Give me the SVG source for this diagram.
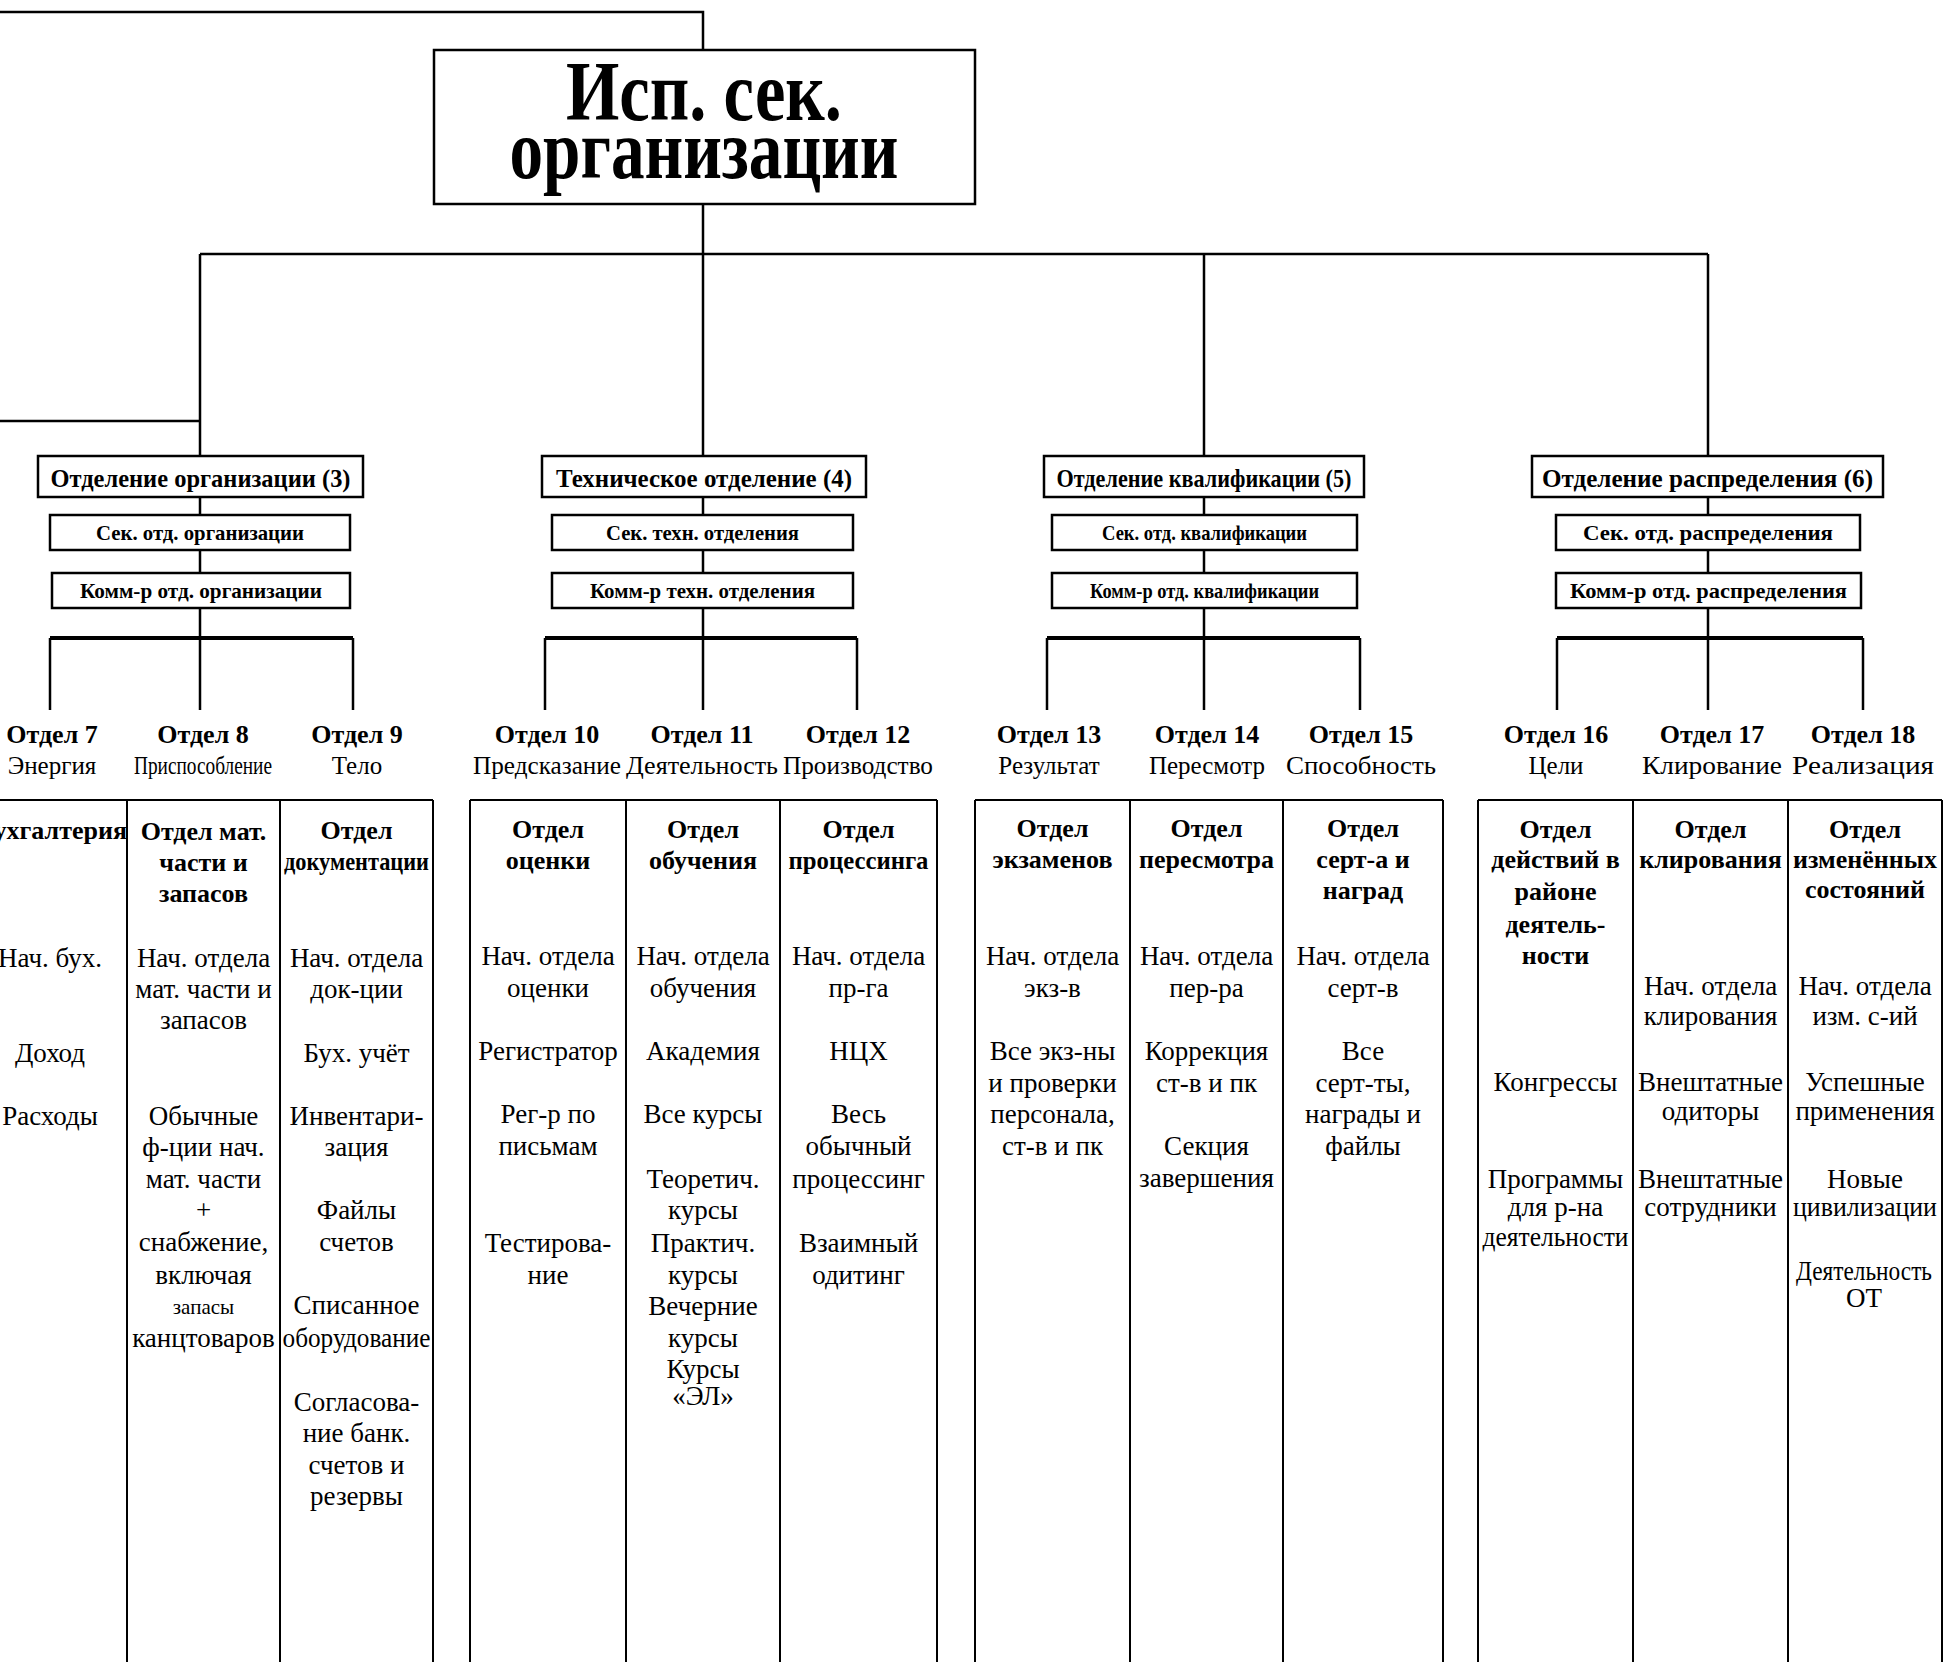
<svg xmlns="http://www.w3.org/2000/svg" width="1943" height="1662" viewBox="0 0 1943 1662">
<style>
.ln{stroke:#000;stroke-width:2.5;fill:none}
.tk{stroke:#000;stroke-width:4;fill:none}
.tl{stroke:#000;stroke-width:2;fill:none}
.box{fill:#fff;stroke:#000;stroke-width:2.5}
text{font-family:"Liberation Serif","DejaVu Serif",serif;fill:#000;text-anchor:middle}
.h1{font-size:84px;font-weight:bold}
.dv{font-size:26px;font-weight:bold}
.sb{font-size:21px;font-weight:bold}
.l1{font-size:26px;font-weight:bold}
.l2{font-size:25px}
.th{font-size:26px;font-weight:bold}
.td{font-size:27px}
</style>
<rect width="1943" height="1662" fill="#fff"/>
<g id="connectors">
<path class="ln" d="M0 12H703V50"/>
<path class="ln" d="M703 204V456"/>
<path class="ln" d="M200 254H1708"/>
<path class="ln" d="M200 254V456M1204 254V456M1708 254V456"/>
<path class="ln" d="M0 421H200"/>
<path class="ln" d="M200 497V515M200 550V573M200 608V710"/>
<path class="ln" d="M703 497V515M703 550V573M703 608V710"/>
<path class="ln" d="M1204 497V515M1204 550V573M1204 608V710"/>
<path class="ln" d="M1708 497V515M1708 550V573M1708 608V710"/>
<path class="tk" d="M50 638H353"/><path class="ln" d="M50 638V710M353 638V710"/>
<path class="tk" d="M545 638H857"/><path class="ln" d="M545 638V710M857 638V710"/>
<path class="tk" d="M1047 638H1360"/><path class="ln" d="M1047 638V710M1360 638V710"/>
<path class="tk" d="M1557 638H1863"/><path class="ln" d="M1557 638V710M1863 638V710"/>
</g>
<g id="main"><rect class="box" x="434" y="50" width="541" height="154"/>
<text class="h1"><tspan x="704" y="120" textLength="276" lengthAdjust="spacingAndGlyphs">Исп. сек.</tspan><tspan x="704" y="178" textLength="389" lengthAdjust="spacingAndGlyphs">организации</tspan></text></g>
<g id="div3"><rect class="box" x="38" y="456" width="325" height="41"/><text class="dv" x="200.5" y="487" textLength="300" lengthAdjust="spacingAndGlyphs">Отделение организации (3)</text></g>
<g id="div4"><rect class="box" x="542" y="456" width="324" height="41"/><text class="dv" x="704" y="487" textLength="296" lengthAdjust="spacingAndGlyphs">Техническое отделение (4)</text></g>
<g id="div5"><rect class="box" x="1044" y="456" width="320" height="41"/><text class="dv" x="1204" y="487" textLength="295" lengthAdjust="spacingAndGlyphs">Отделение квалификации (5)</text></g>
<g id="div6"><rect class="box" x="1532" y="456" width="351" height="41"/><text class="dv" x="1707.5" y="487" textLength="331" lengthAdjust="spacingAndGlyphs">Отделение распределения (6)</text></g>
<g id="sec3"><rect class="box" x="50" y="515" width="300" height="35"/><text class="sb" x="200" y="540" textLength="208" lengthAdjust="spacingAndGlyphs">Сек. отд. организации</text></g>
<g id="sec4"><rect class="box" x="552" y="515" width="301" height="35"/><text class="sb" x="702.5" y="540" textLength="193" lengthAdjust="spacingAndGlyphs">Сек. техн. отделения</text></g>
<g id="sec5"><rect class="box" x="1052" y="515" width="305" height="35"/><text class="sb" x="1204.5" y="540" textLength="205" lengthAdjust="spacingAndGlyphs">Сек. отд. квалификации</text></g>
<g id="sec6"><rect class="box" x="1556" y="515" width="304" height="35"/><text class="sb" x="1708" y="540" textLength="250" lengthAdjust="spacingAndGlyphs">Сек. отд. распределения</text></g>
<g id="kom3"><rect class="box" x="52" y="573" width="298" height="35"/><text class="sb" x="201" y="598" textLength="242" lengthAdjust="spacingAndGlyphs">Комм-р отд. организации</text></g>
<g id="kom4"><rect class="box" x="552" y="573" width="301" height="35"/><text class="sb" x="702.5" y="598" textLength="225" lengthAdjust="spacingAndGlyphs">Комм-р техн. отделения</text></g>
<g id="kom5"><rect class="box" x="1052" y="573" width="305" height="35"/><text class="sb" x="1204.5" y="598" textLength="229" lengthAdjust="spacingAndGlyphs">Комм-р отд. квалификации</text></g>
<g id="kom6"><rect class="box" x="1556" y="573" width="305" height="35"/><text class="sb" x="1708.5" y="598" textLength="277" lengthAdjust="spacingAndGlyphs">Комм-р отд. распределения</text></g>
<g id="labels">
<text class="l1" x="52" y="743">Отдел 7</text><text class="l2" x="52" y="774">Энергия</text>
<text class="l1" x="203" y="743">Отдел 8</text><text class="l2" x="203" y="774" textLength="138" lengthAdjust="spacingAndGlyphs">Приспособление</text>
<text class="l1" x="357" y="743">Отдел 9</text><text class="l2" x="357" y="774">Тело</text>
<text class="l1" x="547" y="743">Отдел 10</text><text class="l2" x="547" y="774" textLength="148" lengthAdjust="spacingAndGlyphs">Предсказание</text>
<text class="l1" x="702" y="743">Отдел 11</text><text class="l2" x="702" y="774" textLength="152" lengthAdjust="spacingAndGlyphs">Деятельность</text>
<text class="l1" x="858" y="743">Отдел 12</text><text class="l2" x="858" y="774" textLength="150" lengthAdjust="spacingAndGlyphs">Производство</text>
<text class="l1" x="1049" y="743">Отдел 13</text><text class="l2" x="1049" y="774">Результат</text>
<text class="l1" x="1207" y="743">Отдел 14</text><text class="l2" x="1207" y="774">Пересмотр</text>
<text class="l1" x="1361" y="743">Отдел 15</text><text class="l2" x="1361" y="774" textLength="150" lengthAdjust="spacingAndGlyphs">Способность</text>
<text class="l1" x="1556" y="743">Отдел 16</text><text class="l2" x="1556" y="774">Цели</text>
<text class="l1" x="1712" y="743">Отдел 17</text><text class="l2" x="1712" y="774" textLength="140" lengthAdjust="spacingAndGlyphs">Клирование</text>
<text class="l1" x="1863" y="743">Отдел 18</text><text class="l2" x="1863" y="774" textLength="142" lengthAdjust="spacingAndGlyphs">Реализация</text>
</g>
<g id="table-lines">
<path class="tl" d="M0 800H433M127 800V1662M280 800V1662M433 800V1662"/>
<path class="tl" d="M470 800H937M470 800V1662M626 800V1662M780 800V1662M937 800V1662"/>
<path class="tl" d="M975 800H1443M975 800V1662M1130 800V1662M1283 800V1662M1443 800V1662"/>
<path class="tl" d="M1478 800H1942M1478 800V1662M1633 800V1662M1788 800V1662M1942 800V1662"/>
</g>
<g id="col-buh">
<text class="th" x="52" y="839">Бухгалтерия</text>
<text class="td"><tspan x="50" y="967">Нач. бух.</tspan><tspan x="50" y="1062">Доход</tspan><tspan x="50" y="1125">Расходы</tspan></text>
</g>
<g id="col-mat">
<text class="th"><tspan x="203.5" y="840">Отдел мат.</tspan><tspan x="203.5" y="871">части и</tspan><tspan x="203.5" y="902">запасов</tspan></text>
<text class="td"><tspan x="203.5" y="967">Нач. отдела</tspan><tspan x="203.5" y="998">мат. части и</tspan><tspan x="203.5" y="1029">запасов</tspan><tspan x="203.5" y="1125">Обычные</tspan><tspan x="203.5" y="1156">ф-ции нач.</tspan><tspan x="203.5" y="1188">мат. части</tspan><tspan x="203.5" y="1219">+</tspan><tspan x="203.5" y="1251">снабжение,</tspan><tspan x="203.5" y="1284">включая</tspan><tspan x="203.5" y="1314" font-size="21">запасы</tspan><tspan x="203.5" y="1347">канцтоваров</tspan></text>
</g>
<g id="col-doc">
<text class="th"><tspan x="356.5" y="839">Отдел</tspan><tspan x="356.5" y="870" textLength="145" lengthAdjust="spacingAndGlyphs">документации</tspan></text>
<text class="td"><tspan x="356.5" y="967">Нач. отдела</tspan><tspan x="356.5" y="998">док-ции</tspan><tspan x="356.5" y="1062">Бух. учёт</tspan><tspan x="356.5" y="1125">Инвентари-</tspan><tspan x="356.5" y="1156">зация</tspan><tspan x="356.5" y="1219">Файлы</tspan><tspan x="356.5" y="1251">счетов</tspan><tspan x="356.5" y="1314">Списанное</tspan><tspan x="356.5" y="1347" textLength="148" lengthAdjust="spacingAndGlyphs">оборудование</tspan><tspan x="356.5" y="1411">Согласова-</tspan><tspan x="356.5" y="1442">ние банк.</tspan><tspan x="356.5" y="1474">счетов и</tspan><tspan x="356.5" y="1505">резервы</tspan></text>
</g>
<g id="col-ocenki">
<text class="th"><tspan x="548" y="838">Отдел</tspan><tspan x="548" y="869">оценки</tspan></text>
<text class="td"><tspan x="548" y="965">Нач. отдела</tspan><tspan x="548" y="997">оценки</tspan><tspan x="548" y="1060">Регистратор</tspan><tspan x="548" y="1123">Рег-р по</tspan><tspan x="548" y="1155">письмам</tspan><tspan x="548" y="1252">Тестирова-</tspan><tspan x="548" y="1284">ние</tspan></text>
</g>
<g id="col-obuch">
<text class="th"><tspan x="703" y="838">Отдел</tspan><tspan x="703" y="869">обучения</tspan></text>
<text class="td"><tspan x="703" y="965">Нач. отдела</tspan><tspan x="703" y="997">обучения</tspan><tspan x="703" y="1060">Академия</tspan><tspan x="703" y="1123">Все курсы</tspan><tspan x="703" y="1188">Теоретич.</tspan><tspan x="703" y="1219">курсы</tspan><tspan x="703" y="1252">Практич.</tspan><tspan x="703" y="1284">курсы</tspan><tspan x="703" y="1315">Вечерние</tspan><tspan x="703" y="1347">курсы</tspan><tspan x="703" y="1378">Курсы</tspan><tspan x="703" y="1405">«ЭЛ»</tspan></text>
</g>
<g id="col-proc">
<text class="th"><tspan x="858.5" y="838">Отдел</tspan><tspan x="858.5" y="869" textLength="140" lengthAdjust="spacingAndGlyphs">процессинга</tspan></text>
<text class="td"><tspan x="858.5" y="965">Нач. отдела</tspan><tspan x="858.5" y="997">пр-га</tspan><tspan x="858.5" y="1060">НЦХ</tspan><tspan x="858.5" y="1123">Весь</tspan><tspan x="858.5" y="1155">обычный</tspan><tspan x="858.5" y="1188">процессинг</tspan><tspan x="858.5" y="1252">Взаимный</tspan><tspan x="858.5" y="1284">одитинг</tspan></text>
</g>
<g id="col-ekz">
<text class="th"><tspan x="1052.5" y="837">Отдел</tspan><tspan x="1052.5" y="868">экзаменов</tspan></text>
<text class="td"><tspan x="1052.5" y="965">Нач. отдела</tspan><tspan x="1052.5" y="997">экз-в</tspan><tspan x="1052.5" y="1060">Все экз-ны</tspan><tspan x="1052.5" y="1092">и проверки</tspan><tspan x="1052.5" y="1123">персонала,</tspan><tspan x="1052.5" y="1155">ст-в и пк</tspan></text>
</g>
<g id="col-peresm">
<text class="th"><tspan x="1206.5" y="837">Отдел</tspan><tspan x="1206.5" y="868">пересмотра</tspan></text>
<text class="td"><tspan x="1206.5" y="965">Нач. отдела</tspan><tspan x="1206.5" y="997">пер-ра</tspan><tspan x="1206.5" y="1060">Коррекция</tspan><tspan x="1206.5" y="1092">ст-в и пк</tspan><tspan x="1206.5" y="1155">Секция</tspan><tspan x="1206.5" y="1187">завершения</tspan></text>
</g>
<g id="col-sert">
<text class="th"><tspan x="1363" y="837">Отдел</tspan><tspan x="1363" y="868">серт-а и</tspan><tspan x="1363" y="899">наград</tspan></text>
<text class="td"><tspan x="1363" y="965">Нач. отдела</tspan><tspan x="1363" y="997">серт-в</tspan><tspan x="1363" y="1060">Все</tspan><tspan x="1363" y="1092">серт-ты,</tspan><tspan x="1363" y="1123">награды и</tspan><tspan x="1363" y="1155">файлы</tspan></text>
</g>
<g id="col-deyst">
<text class="th"><tspan x="1555.5" y="838">Отдел</tspan><tspan x="1555.5" y="868">действий в</tspan><tspan x="1555.5" y="900">районе</tspan><tspan x="1555.5" y="933">деятель-</tspan><tspan x="1555.5" y="964">ности</tspan></text>
<text class="td"><tspan x="1555.5" y="1091">Конгрессы</tspan><tspan x="1555.5" y="1188">Программы</tspan><tspan x="1555.5" y="1216">для р-на</tspan><tspan x="1555.5" y="1246" textLength="146" lengthAdjust="spacingAndGlyphs">деятельности</tspan></text>
</g>
<g id="col-klir">
<text class="th"><tspan x="1710.5" y="838">Отдел</tspan><tspan x="1710.5" y="868">клирования</tspan></text>
<text class="td"><tspan x="1710.5" y="995">Нач. отдела</tspan><tspan x="1710.5" y="1025">клирования</tspan><tspan x="1710.5" y="1091">Внештатные</tspan><tspan x="1710.5" y="1120">одиторы</tspan><tspan x="1710.5" y="1188">Внештатные</tspan><tspan x="1710.5" y="1216">сотрудники</tspan></text>
</g>
<g id="col-izm">
<text class="th"><tspan x="1865" y="838">Отдел</tspan><tspan x="1865" y="868" textLength="144" lengthAdjust="spacingAndGlyphs">изменённых</tspan><tspan x="1865" y="898">состояний</tspan></text>
<text class="td"><tspan x="1865" y="995">Нач. отдела</tspan><tspan x="1865" y="1025">изм. с-ий</tspan><tspan x="1865" y="1091">Успешные</tspan><tspan x="1865" y="1120">применения</tspan><tspan x="1865" y="1188">Новые</tspan><tspan x="1865" y="1216" textLength="144" lengthAdjust="spacingAndGlyphs">цивилизации</tspan></text>
<text class="td" font-size="25"><tspan x="1864" y="1280" textLength="136" lengthAdjust="spacingAndGlyphs">Деятельность</tspan><tspan x="1864" y="1307">ОТ</tspan></text>
</g>
</svg>
